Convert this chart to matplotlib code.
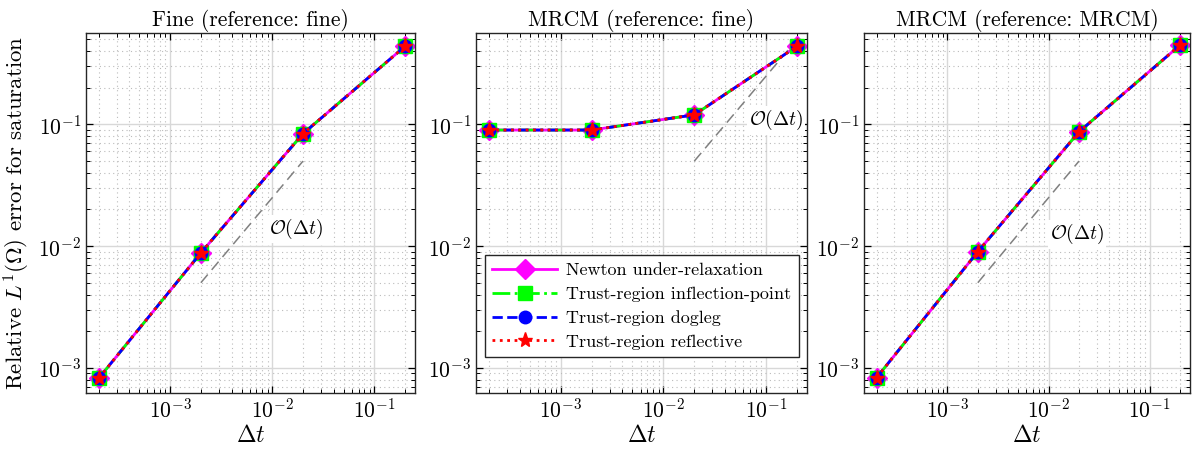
import matplotlib
matplotlib.use("Agg")
import matplotlib.pyplot as plt
import numpy as np

plt.rcParams['font.family'] = ['cmr10']
plt.rcParams['mathtext.fontset'] = 'cm'
plt.rcParams['axes.formatter.use_mathtext'] = True
plt.rcParams['axes.unicode_minus'] = False

dt = [2e-4, 2e-3, 2e-2, 2e-1]
titles = ["Fine (reference: fine)", "MRCM (reference: fine)", "MRCM (reference: MRCM)"]
err_newton = [
    [8.2e-4, 8.8e-3, 0.084, 0.44],
    [0.090, 0.090, 0.12, 0.44],
    [8.3e-4, 9.0e-3, 0.087, 0.45],
]
err_infl = err_newton
err_dogleg = err_newton
err_refl = err_newton
ref_x = [[2e-3, 2e-2], [2e-2, 2e-1], [2e-3, 2e-2]]
ref_y = [[5e-3, 5e-2], [5e-2, 5e-1], [5e-3, 5e-2]]
ref_label_pos = [(0.017, 0.0138), (0.125, 0.108), (0.019, 0.0125)]
legend_labels = ["Newton under-relaxation", "Trust-region inflection-point",
                 "Trust-region dogleg", "Trust-region reflective"]

fig = plt.figure(figsize=(11.98, 4.5), dpi=100)
lefts = [86, 476, 864]
widths = [329, 331, 326]
W, H = 1198, 450
for i in range(3):
    ax = fig.add_axes([lefts[i] / W, 1 - 393 / H, widths[i] / W, 360 / H])
    ax.set_xscale('log')
    ax.set_yscale('log')
    ax.set_xlim(1.5e-4, 0.25)
    ax.set_ylim(6.2e-4, 0.565)
    ax.grid(True, which='major', color='#d8d8d8', linestyle='-', linewidth=1.0)
    ax.grid(True, which='minor', color='#bbbbbb', linestyle=(0, (1, 3)), linewidth=0.8)
    ax.set_axisbelow(True)
    ax.tick_params(which='both', direction='in', top=True, right=True, labelsize=15.5)
    ax.tick_params(which='major', length=5, width=0.9)
    ax.tick_params(which='minor', length=3, width=0.7)
    for s in ax.spines.values():
        s.set_linewidth(1.0)
        s.set_color('#262626')
    ax.set_xticks([1e-3, 1e-2, 1e-1])
    ax.set_yticks([1e-3, 1e-2, 1e-1])

    ax.plot(ref_x[i], ref_y[i], color='#808080', linestyle=(0, (7, 4)), linewidth=1.1)
    ax.text(ref_label_pos[i][0], ref_label_pos[i][1], r'$\mathcal{O}(\Delta t)$',
            fontsize=14, ha='center', va='center',
            bbox=dict(facecolor='white', edgecolor='none', pad=1.5))

    l1, = ax.plot(dt, err_newton[i], color='#ff00ff', linestyle='-', linewidth=2,
                  marker='D', markersize=10, markerfacecolor='#ff00ff', markeredgecolor='#ff00ff')
    l2, = ax.plot(dt, err_infl[i], color='#00ff00', linestyle='-.', linewidth=2,
                  marker='s', markersize=10, markerfacecolor='#00ff00', markeredgecolor='#00ff00')
    l3, = ax.plot(dt, err_dogleg[i], color='#0000ff', linestyle='--', linewidth=2,
                  marker='o', markersize=9, markerfacecolor='#0000ff', markeredgecolor='#0000ff')
    l4, = ax.plot(dt, err_refl[i], color='#ff0000', linestyle=':', linewidth=2,
                  marker='*', markersize=11, markerfacecolor='#ff0000', markeredgecolor='#ff0000')
    ax.set_title(titles[i], fontsize=15.5, pad=5)
    ax.set_xlabel(r'$\Delta t$', fontsize=17, labelpad=2)
    if i == 0:
        ax.set_ylabel(r'Relative $L^1(\Omega)$ error for saturation', fontsize=16.5, labelpad=4)
    if i == 1:
        leg = ax.legend([l1, l2, l3, l4], legend_labels, loc='lower right',
                        bbox_to_anchor=(0.975, 0.1), fontsize=13, fancybox=False,
                        framealpha=1, edgecolor='#262626', handlelength=3.6,
                        borderpad=0.4, labelspacing=0.45, handletextpad=0.5,
                        borderaxespad=0.0)
        leg.get_frame().set_linewidth(1.0)

fig.savefig('out.png', dpi=100)
